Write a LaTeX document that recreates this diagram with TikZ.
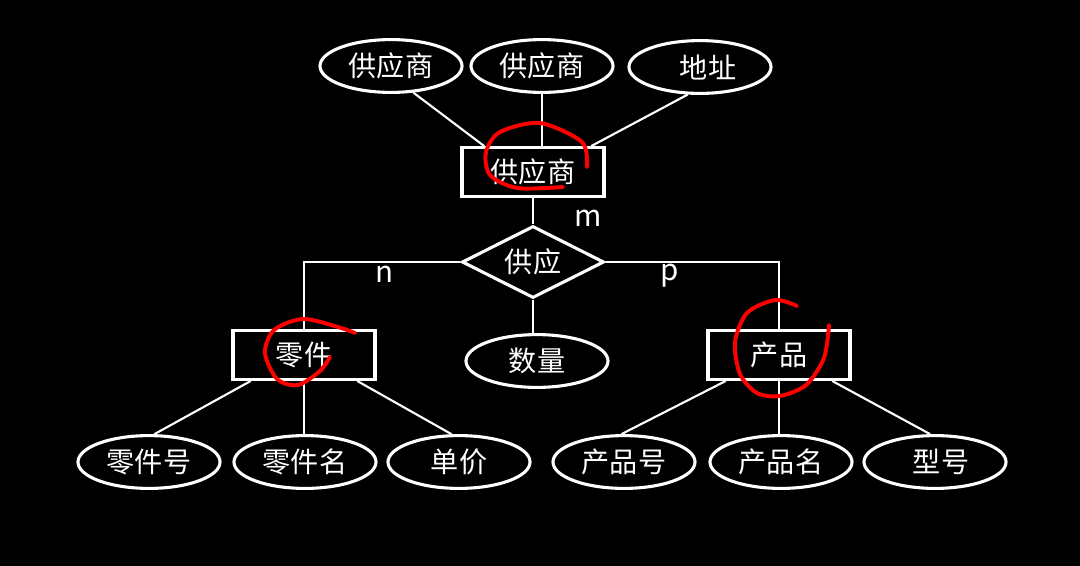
\documentclass[tikz,border=0pt]{standalone}
\usepackage{fontspec}
\setmainfont{Noto Sans CJK SC}
\usetikzlibrary{shapes.geometric}

\begin{document}
\begin{tikzpicture}[x=0.025cm,y=-0.025cm,
    every node/.style={text=white,font=\fontsize{20}{24}\selectfont},
    attr/.style={ellipse,draw=white,line width=2.2pt,minimum width=3.55cm,minimum height=1.32cm,inner sep=0pt},
    entity/.style={rectangle,draw=white,line width=2.2pt,minimum width=3.55cm,minimum height=1.22cm,inner sep=0pt},
    rel/.style={diamond,draw=white,line width=2.2pt,minimum width=3.55cm,minimum height=1.8cm,inner sep=0pt,aspect=2},
    link/.style={draw=white,line width=1.5pt},
    card/.style={font=\fontsize{21}{24}\selectfont},
    redmark/.style={red,line width=2.8pt,line cap=round}]
    \fill[black] (0,0) rectangle (1080,566);

    % supplier and its attributes
    \node[attr] (sname1) at (391,66) {供应商};
    \node[attr] (sname2) at (542,66) {供应商};
    \node[attr] (addr) at (700,67) {\hspace{0.4cm}地址};
    \node[entity] (supplier) at (533,172) {供应商};

    % relationship
    \node[rel] (supply) at (533,262) {供应};
    \node[attr] (qty) at (537,361) {数量};
    \node[card] (m) at (588,218) {m};
    \node[card] (n) at (385,274) {n};
    \node[card] (p) at (670,276) {p};

    % part and product
    \node[entity] (part) at (304,355) {零件};
    \node[entity] (product) at (779,355) {产品};

    \node[attr] (partno) at (149,462) {零件号};
    \node[attr] (partname) at (305,462) {零件名};
    \node[attr] (price) at (459,462) {单价};
    \node[attr] (prodno) at (624,462) {产品号};
    \node[attr] (prodname) at (781,462) {产品名};
    \node[attr] (model) at (935,462) {\hspace{0.3cm}型号};

    \draw[link] (sname1.-50) -- (supplier.152);
    \draw[link] (sname2.south) -- (sname2.south |- supplier.north);
    \draw[link] (addr.-114) -- (supplier.24);
    \draw[link] (supplier.south) -- (supply.north);
    \draw[link] (supply.west) -| (part.north);
    \draw[link] (supply.east) -| (product.north);
    \draw[link] (supply.south) -- (supply.south |- qty.north);

    \draw[link] (part.206) -- (partno.79);
    \draw[link] (part.south) -- (part.south |- partname.north);
    \draw[link] (part.-26) -- (price.105);
    \draw[link] (product.206) -- (prodno.95);
    \draw[link] (product.south) -- (product.south |- prodname.north);
    \draw[link] (product.-26) -- (model.100);

    % red hand marks
    \draw[redmark] plot[smooth] coordinates {(587,167) (582,142) (540,123) (500,132) (486,152) (490,175) (517,188) (563,187)};
    \draw[redmark] plot[smooth] coordinates {(355,333) (338,327) (303,319) (274,330) (265,353) (277,379) (298,385) (320,371) (330,357)};
    \draw[redmark] plot[smooth] coordinates {(797,306) (775,300) (747,313) (735,342) (740,374) (757,393) (780,396) (806,385) (824,358) (829,325)};
\end{tikzpicture}
\end{document}
